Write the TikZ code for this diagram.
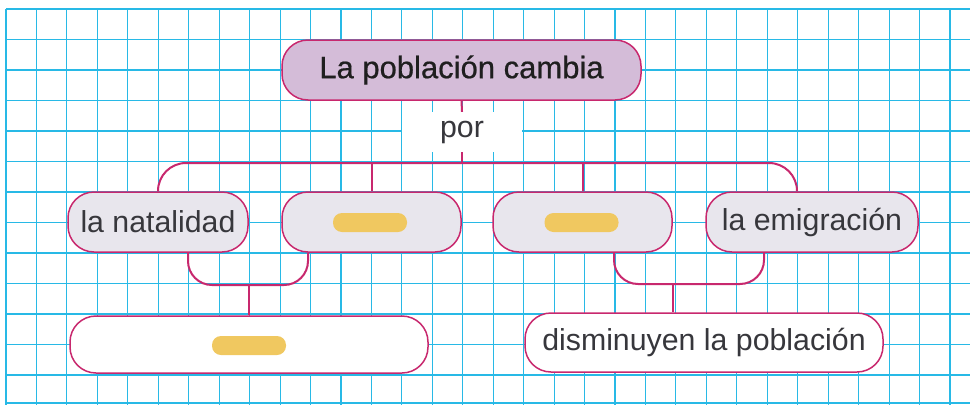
\documentclass[tikz,border=0pt]{standalone}
\usepackage{fontspec}
\setmainfont{Liberation Sans}
\newfontfamily\titlefont[FakeBold=0.6]{Liberation Sans}
\usetikzlibrary{calc}
\definecolor{gridc}{RGB}{40,185,230}
\definecolor{magc}{RGB}{200,40,110}
\definecolor{titlefill}{RGB}{212,188,216}
\definecolor{midfill}{RGB}{232,230,237}
\definecolor{pillc}{RGB}{240,200,96}
\definecolor{txtc}{RGB}{55,55,60}
\tikzset{
  box/.style={draw=magc, line width=1.5pt, rounded corners=26pt, inner sep=0pt,
    font=\fontsize{30.3}{32}\selectfont, text=txtc},
  titlebox/.style={box, fill=titlefill, text={black!88}, font=\titlefont\fontsize{31}{33}\selectfont},
  midbox/.style={box, fill=midfill, minimum height=60pt},
  lowbox/.style={box, fill=white},
  pill/.style={fill=pillc, rounded corners=9pt, minimum width=74pt, minimum height=19pt, inner sep=0pt},
  conn/.style={draw=magc, line width=2pt},
  gridline/.style={draw=gridc, line width=1.1pt}
}
\begin{document}
\begin{tikzpicture}[x=1pt,y=-1pt]
\useasboundingbox (0,0) rectangle (970,405);
\fill[white] (0,0) rectangle (970,405);
% grid
\foreach \k in {0,...,31} {
  \draw[gridline] ({6+30.45*\k},9) -- ({6+30.45*\k},405);
}
\foreach \k in {0,...,12} {
  \draw[gridline] (6,{9+30.5*\k}) -- (970,{9+30.5*\k});
}
\draw[gridline] (6,403) -- (970,403);

% nodes
\node[titlebox, minimum width=359pt, minimum height=60pt] (title) at (461.5,70) {La población cambia};
\node[fill=white, minimum width=120pt, minimum height=40pt, inner sep=0pt,
  font=\fontsize{30.3}{32}\selectfont, text=txtc] (por) at (462,132) {por};

\node[midbox, minimum width=180pt] (n1) at (158,222) {la natalidad};
\node[midbox, minimum width=179pt] (n2) at (371.5,222) {};
\node[midbox, minimum width=179pt] (n3) at (582.5,222) {};
\node[midbox, minimum width=212pt] (n4) at (812,222) {la emigración};

\node[lowbox, minimum width=358pt, minimum height=57pt] (b1) at (249,344.5) {};
\node[lowbox, minimum width=358pt, minimum height=59pt] (b2) at (704,342.5) {disminuyen la población};

\node[pill] (p2) at (370,222.5) {};
\node[pill] (p3) at (581.5,222.5) {};
\node[pill] (p5) at (249,345.5) {};

% connector coordinates
\coordinate (hub) at (462,163);
\coordinate (r4) at ($(n4.north)+(-15,0)$);
\coordinate (j1) at (249,285);
\coordinate (j2) at (673,284);

% connectors
\draw[conn] (title.south) -- (por.north);
\draw[conn] (por.south) -- (hub);
\draw[conn, rounded corners=28pt] (n1.north) |- (hub) -| (r4);
\draw[conn] (n2.north) -- (n2.north |- hub);
\draw[conn] (n3.north) -- (n3.north |- hub);

\draw[conn, rounded corners=24pt] ($(n1.south)+(30,0)$) |- (j1) -| ($(n2.south)+(-63.5,0)$);
\draw[conn] (j1) -- (b1.north);
\draw[conn, rounded corners=24pt] ($(n3.south)+(31.5,0)$) |- (j2) -| ($(n4.south)+(-48,0)$);
\draw[conn] (j2) -- (j2 |- b2.north);
\end{tikzpicture}
\end{document}
